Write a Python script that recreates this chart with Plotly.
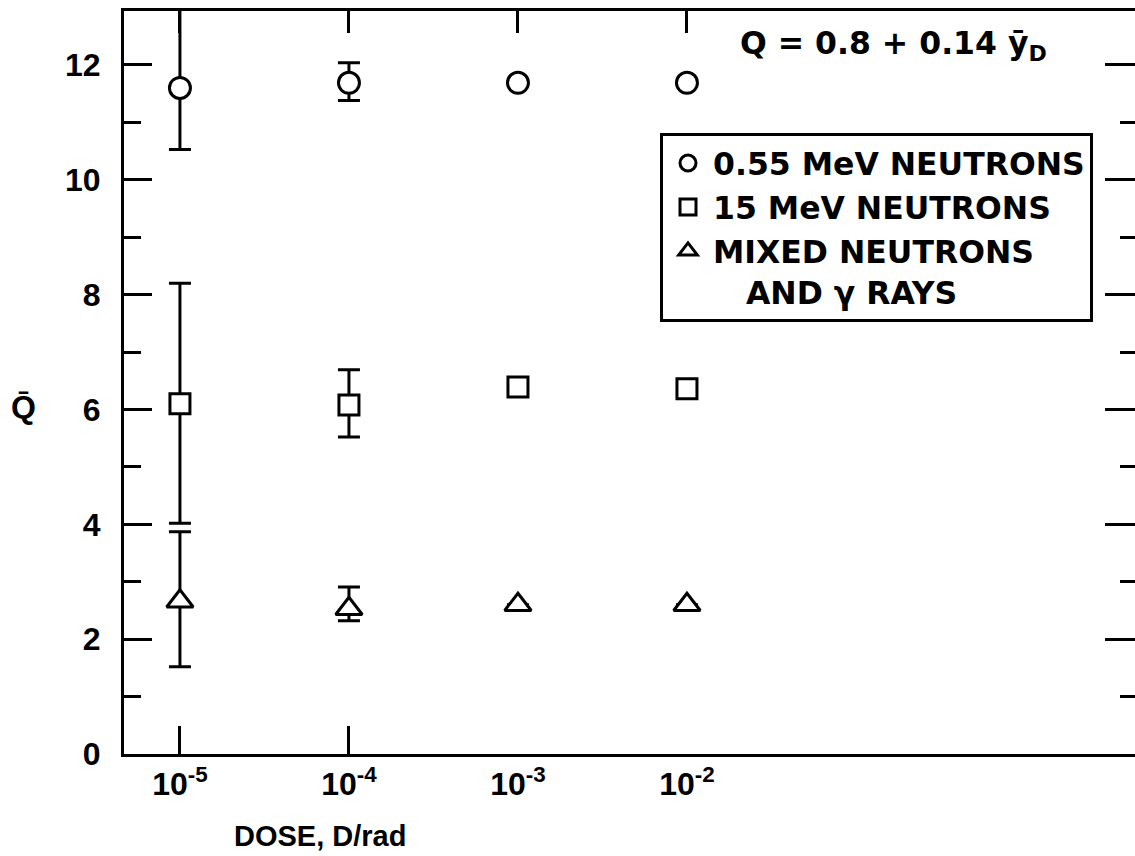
import plotly.graph_objects as go

# ---- data ----
dose = [1e-5, 1e-4, 1e-3, 1e-2]
dose_ticktext = ["10<sup>-5</sup>", "10<sup>-4</sup>", "10<sup>-3</sup>", "10<sup>-2</sup>"]

q_055 = [11.6, 11.69, 11.69, 11.69]
q_055_err_plus = [1.6, 0.35, None, None]
q_055_err_minus = [1.07, 0.31, None, None]

q_15 = [6.1, 6.08, 6.39, 6.36]
q_15_err_plus = [2.1, 0.61, None, None]
q_15_err_minus = [2.08, 0.56, None, None]

q_mix = [2.66, 2.53, 2.6, 2.6]
q_mix_err_plus = [1.21, 0.38, None, None]
q_mix_err_minus = [1.14, 0.21, None, None]

y_major = [0, 2, 4, 6, 8, 10, 12]
series_names = ["0.55 MeV NEUTRONS", "15 MeV NEUTRONS",
                "MIXED NEUTRONS<br>\u00a0\u00a0\u00a0AND \u03b3 RAYS"]

FONT = "Liberation Sans, Arial, sans-serif"
WIDE = "DejaVu Sans, Liberation Sans, sans-serif"
W, H = 1135, 856
L, R, T, B = 124, 0, 11, 102
XR = [-5.331, 0.651]
YR = [0, 12.94]

fig = go.Figure()

def add_series(y, ep, em, sym, size, name):
    fig.add_trace(go.Scatter(
        x=dose, y=y, mode="markers", name=name,
        marker=dict(symbol=sym, size=size, color="white",
                    line=dict(color="black", width=3)),
        error_y=dict(type="data", symmetric=False, array=ep, arrayminus=em,
                     color="black", thickness=3, width=11),
    ))

add_series(q_055, q_055_err_plus, q_055_err_minus, "circle", 21, series_names[0])
add_series(q_15, q_15_err_plus, q_15_err_minus, "square", 20, series_names[1])
add_series(q_mix, q_mix_err_plus, q_mix_err_minus, "triangle-up", 23, series_names[2])

tickfont = dict(family=FONT, size=32, color="black", weight=700)

fig.update_layout(
    width=W, height=H,
    margin=dict(l=L, r=R, t=T, b=B, pad=0),
    paper_bgcolor="white", plot_bgcolor="white",
    font=dict(family=FONT, color="black"),
    xaxis=dict(
        type="log", range=XR, showgrid=False, zeroline=False,
        showline=True, linecolor="black", linewidth=3,
        tickvals=dose, ticktext=dose_ticktext, ticks="",
        tickfont=tickfont, ticklabelstandoff=0,
    ),
    xaxis2=dict(
        type="log", range=XR, overlaying="x", side="top", anchor="y",
        showgrid=False, zeroline=False, showline=True, linecolor="black",
        linewidth=3, tickvals=dose, ticks="inside", ticklen=22, tickwidth=3,
        tickcolor="black", showticklabels=False,
    ),
    xaxis3=dict(
        type="log", range=XR, overlaying="x", side="bottom", anchor="y",
        showgrid=False, zeroline=False, showline=False,
        tickvals=dose[:2], ticks="inside", ticklen=28, tickwidth=3,
        tickcolor="black", showticklabels=False,
    ),
    yaxis=dict(
        range=YR, showgrid=False, zeroline=False,
        showline=True, linecolor="black", linewidth=3,
        tickvals=y_major, ticks="inside", ticklen=28, tickwidth=3,
        tickcolor="black", tickfont=tickfont, ticklabelstandoff=14,
        minor=dict(dtick=1, tick0=1, ticks="inside", ticklen=17, tickwidth=3,
                   tickcolor="black", showgrid=False),
    ),
    yaxis2=dict(
        range=YR, overlaying="y", side="right", anchor="x",
        showgrid=False, zeroline=False, showline=False,
        tickvals=y_major, ticks="inside", ticklen=30, tickwidth=3,
        tickcolor="black", showticklabels=False,
        minor=dict(dtick=1, tick0=1, ticks="inside", ticklen=15, tickwidth=3,
                   tickcolor="black", showgrid=False),
    ),
    legend=dict(
        x=(660 - L) / (W - L), y=(H - B - 133) / (H - B - T),
        xanchor="left", yanchor="top", valign="top",
        bgcolor="white", bordercolor="black", borderwidth=3,
        font=dict(family=WIDE, size=31.5, color="black", weight=700),
        itemsizing="trace", tracegroupgap=0, itemwidth=40,
    ),
    showlegend=True,
)

# Dummy traces so overlay axes are drawn
fig.add_trace(go.Scatter(x=[None], y=[None], xaxis="x2", yaxis="y2", showlegend=False))
fig.add_trace(go.Scatter(x=[None], y=[None], xaxis="x3", yaxis="y", showlegend=False))

fig.add_annotation(
    text="Q = 0.8 + 0.14 \u0233<sub>D</sub>", xref="paper", yref="paper",
    x=(738 - L) / (W - L), y=(H - B - 23) / (H - B - T), xanchor="left", yanchor="top",
    showarrow=False, font=dict(family=WIDE, size=31.5, color="black", weight=700),
)
fig.add_annotation(
    text="Q\u0304", xref="paper", yref="paper",
    x=(23 - L) / (W - L), y=(H - B - 407) / (H - B - T), xanchor="center", yanchor="middle",
    showarrow=False, font=dict(family=FONT, size=32, color="black", weight=700),
)
fig.add_annotation(
    text="DOSE, D/rad", xref="paper", yref="paper",
    x=(320 - L) / (W - L), y=-(836 - (H - B)) / (H - B - T), xanchor="center", yanchor="middle",
    showarrow=False, font=dict(family=FONT, size=29, color="black", weight=700),
)

fig.write_html(
    "out.html",
    config={"displayModeBar": False},
    post_script="document.body.style.margin='0px';document.body.style.overflow='hidden';",
)
